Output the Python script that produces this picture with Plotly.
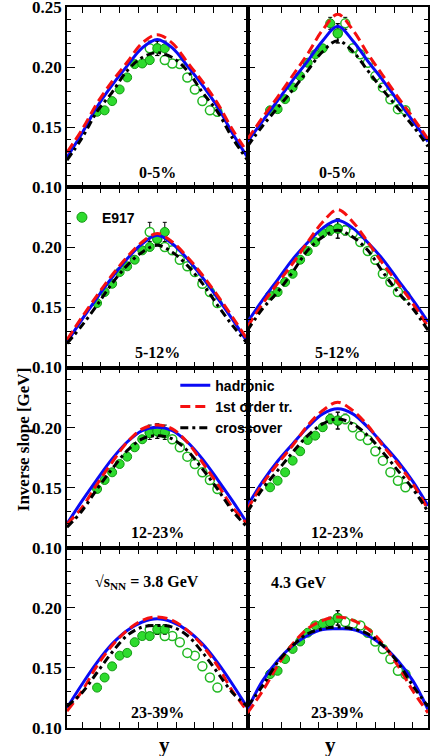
import plotly.graph_objects as go
from plotly.subplots import make_subplots

# rapidity grid for the model curves
X_CURVE = [-1.2, -1.0, -0.8, -0.6, -0.4, -0.2, 0.0, 0.2, 0.4, 0.6, 0.8, 1.0, 1.2]

# model curves, 3.8 GeV (left column)
had_38_0_5 = [0.125, 0.145, 0.167, 0.185, 0.201, 0.216, 0.223, 0.216, 0.201, 0.185, 0.167, 0.145, 0.125]
fo_38_0_5 = [0.129, 0.148, 0.170, 0.188, 0.204, 0.220, 0.227, 0.220, 0.204, 0.188, 0.170, 0.148, 0.129]
cr_38_0_5 = [0.1225, 0.141, 0.163, 0.179, 0.197, 0.208, 0.212, 0.208, 0.197, 0.179, 0.163, 0.141, 0.1225]

had_38_5_12 = [0.121, 0.140, 0.158, 0.175, 0.1905, 0.203, 0.210, 0.203, 0.1905, 0.175, 0.158, 0.140, 0.121]
fo_38_5_12 = [0.123, 0.142, 0.160, 0.177, 0.192, 0.2045, 0.2115, 0.2045, 0.192, 0.177, 0.160, 0.142, 0.123]
cr_38_5_12 = [0.120, 0.135, 0.152, 0.170, 0.185, 0.196, 0.2017, 0.196, 0.185, 0.170, 0.152, 0.135, 0.120]

had_38_12_23 = [0.120, 0.139, 0.157, 0.174, 0.188, 0.1975, 0.2003, 0.1975, 0.188, 0.174, 0.157, 0.139, 0.120]
fo_38_12_23 = [0.1197, 0.1336, 0.153, 0.1711, 0.1878, 0.1989, 0.2022, 0.1989, 0.1878, 0.1711, 0.153, 0.1336, 0.1197]
cr_38_12_23 = [0.117, 0.1308, 0.1489, 0.1656, 0.1808, 0.1906, 0.1933, 0.1906, 0.1808, 0.1656, 0.1489, 0.1308, 0.117]

had_38_23_39 = [0.1168, 0.1364, 0.1546, 0.170, 0.1812, 0.1882, 0.191, 0.1882, 0.1812, 0.170, 0.1546, 0.1364, 0.1168]
fo_38_23_39 = [0.114, 0.1308, 0.1518, 0.1686, 0.1812, 0.1896, 0.1924, 0.1896, 0.1812, 0.1686, 0.1518, 0.1308, 0.114]
cr_38_23_39 = [0.118, 0.1294, 0.1462, 0.163, 0.177, 0.184, 0.1854, 0.184, 0.177, 0.163, 0.1462, 0.1294, 0.118]

# model curves, 4.3 GeV (right column)
had_43_0_5 = [0.138, 0.155, 0.172, 0.189, 0.205, 0.222, 0.234, 0.222, 0.205, 0.189, 0.172, 0.155, 0.138]
fo_43_0_5 = [0.140, 0.158, 0.175, 0.193, 0.211, 0.231, 0.244, 0.231, 0.211, 0.193, 0.175, 0.158, 0.140]
cr_43_0_5 = [0.134, 0.151, 0.166, 0.181, 0.197, 0.213, 0.222, 0.213, 0.197, 0.181, 0.166, 0.151, 0.134]

had_43_5_12 = [0.138, 0.156, 0.173, 0.190, 0.204, 0.216, 0.2225, 0.216, 0.204, 0.190, 0.173, 0.156, 0.138]
fo_43_5_12 = [0.134, 0.153, 0.170, 0.1864, 0.2044, 0.2211, 0.2314, 0.2211, 0.2044, 0.1864, 0.170, 0.153, 0.134]
cr_43_5_12 = [0.131, 0.1489, 0.1628, 0.1794, 0.1975, 0.2086, 0.2142, 0.2086, 0.1975, 0.1794, 0.1628, 0.1489, 0.131]

had_43_12_23 = [0.135, 0.155, 0.172, 0.1864, 0.2003, 0.2114, 0.2156, 0.2114, 0.2003, 0.1864, 0.172, 0.155, 0.135]
fo_43_12_23 = [0.132, 0.153, 0.1697, 0.185, 0.2017, 0.2142, 0.2211, 0.2142, 0.2017, 0.185, 0.1697, 0.153, 0.132]
cr_43_12_23 = [0.130, 0.1489, 0.1642, 0.1794, 0.1933, 0.2031, 0.2072, 0.2031, 0.1933, 0.1794, 0.1642, 0.1489, 0.130]

had_43_23_39 = [0.1154, 0.1392, 0.156, 0.1686, 0.177, 0.182, 0.1826, 0.182, 0.177, 0.1686, 0.156, 0.1392, 0.1154]
fo_43_23_39 = [0.1126, 0.1308, 0.1518, 0.170, 0.1826, 0.1896, 0.1924, 0.1896, 0.1826, 0.170, 0.1518, 0.1308, 0.1126]
cr_43_23_39 = [0.118, 0.135, 0.1546, 0.1686, 0.1784, 0.1826, 0.184, 0.1826, 0.1784, 0.1686, 0.1546, 0.135, 0.118]

# E917 inverse slopes (measured side, filled symbols)
X_E917_38 = [-0.8, -0.7, -0.6, -0.5, -0.4, -0.3, -0.2, -0.1, 0.0, 0.1]
X_E917_43 = [-0.9, -0.8, -0.7, -0.6, -0.5, -0.4, -0.3, -0.2, -0.1, 0.0]

e917_38_0_5 = [0.1628, 0.164, 0.1717, 0.1814, 0.1914, 0.2025, 0.203, 0.2058, 0.2156, 0.2156]
err_38_0_5 = [0.002, 0.002, 0.002, 0.002, 0.002, 0.002, 0.002, 0.003, 0.006, 0.006]
e917_38_5_12 = [0.1536, 0.1628, 0.1697, 0.1794, 0.1842, 0.1897, 0.1975, 0.2003, 0.207, 0.2128]
err_38_5_12 = [0.002, 0.002, 0.002, 0.002, 0.002, 0.003, 0.002, 0.003, 0.004, 0.008]
e917_38_12_23 = [0.1489, 0.1564, 0.1628, 0.1697, 0.1758, 0.1836, 0.1903, 0.1953, 0.197, 0.1961]
err_38_12_23 = [0.002, 0.002, 0.002, 0.002, 0.002, 0.002, 0.002, 0.003, 0.006, 0.006]
e917_38_23_39 = [0.1336, 0.142, 0.1513, 0.1602, 0.1625, 0.1714, 0.1765, 0.1765, 0.182, 0.182]
err_38_23_39 = [0.002, 0.002, 0.002, 0.002, 0.002, 0.002, 0.002, 0.003, 0.004, 0.004]

e917_43_0_5 = [0.164, 0.165, 0.1733, 0.1831, 0.1925, 0.2036, 0.2106, 0.2156, 0.2364, 0.2281]
err_43_0_5 = [0.002, 0.002, 0.002, 0.002, 0.002, 0.002, 0.002, 0.003, 0.005, 0.008]
e917_43_5_12 = [0.160, 0.1628, 0.1711, 0.178, 0.1897, 0.1969, 0.2044, 0.2119, 0.2142, 0.2156]
err_43_5_12 = [0.002, 0.002, 0.002, 0.002, 0.002, 0.002, 0.002, 0.003, 0.004, 0.008]
e917_43_12_23 = [0.1503, 0.1558, 0.1628, 0.1725, 0.1803, 0.1897, 0.1933, 0.2003, 0.2072, 0.2058]
err_43_12_23 = [0.002, 0.002, 0.002, 0.002, 0.002, 0.002, 0.002, 0.003, 0.004, 0.007]
e917_43_23_39 = [0.1448, 0.1476, 0.1574, 0.1658, 0.172, 0.1793, 0.1854, 0.1868, 0.1882, 0.1916]
err_43_23_39 = [0.002, 0.002, 0.002, 0.002, 0.002, 0.002, 0.002, 0.003, 0.004, 0.006]

CENTRALITIES = ["0-5%", "5-12%", "12-23%", "23-39%"]

panels = [
    # (row, col, x data, T data, err, hadronic, 1st order, crossover)
    (1, 1, X_E917_38, e917_38_0_5, err_38_0_5, had_38_0_5, fo_38_0_5, cr_38_0_5),
    (2, 1, X_E917_38, e917_38_5_12, err_38_5_12, had_38_5_12, fo_38_5_12, cr_38_5_12),
    (3, 1, X_E917_38, e917_38_12_23, err_38_12_23, had_38_12_23, fo_38_12_23, cr_38_12_23),
    (4, 1, X_E917_38, e917_38_23_39, err_38_23_39, had_38_23_39, fo_38_23_39, cr_38_23_39),
    (1, 2, X_E917_43, e917_43_0_5, err_43_0_5, had_43_0_5, fo_43_0_5, cr_43_0_5),
    (2, 2, X_E917_43, e917_43_5_12, err_43_5_12, had_43_5_12, fo_43_5_12, cr_43_5_12),
    (3, 2, X_E917_43, e917_43_12_23, err_43_12_23, had_43_12_23, fo_43_12_23, cr_43_12_23),
    (4, 2, X_E917_43, e917_43_23_39, err_43_23_39, had_43_23_39, fo_43_23_39, cr_43_23_39),
]

GREEN = "#2EDB2E"
GREEN_EDGE = "#129A12"
SERIF = "Liberation Serif"
SANS = "Liberation Sans"

fig = make_subplots(rows=4, cols=2, horizontal_spacing=0, vertical_spacing=0)

err_style = dict(type="data", color="black", thickness=1, width=2)
curve_styles = [
    ("hadronic", dict(color="#0A0AF5", width=3)),
    ("1st order tr.", dict(color="#F51010", width=3, dash="10px,5px")),
    ("crossover", dict(color="black", width=3, dash="8px,4px,3px,4px")),
]

for row, col, xd, td, ed, had, fo, cr in panels:
    # reflected points (open symbols)
    fig.add_trace(go.Scatter(
        x=[-v for v in xd], y=td, mode="markers", showlegend=False,
        marker=dict(symbol="circle", size=9, color="white", line=dict(color="#22B822", width=1.5)),
        error_y=dict(array=ed, **err_style)), row=row, col=col)
    # measured points (filled)
    fig.add_trace(go.Scatter(
        x=xd, y=td, mode="markers", showlegend=False,
        marker=dict(symbol="circle", size=9, color=GREEN, line=dict(color=GREEN_EDGE, width=1)),
        error_y=dict(array=ed, **err_style)), row=row, col=col)
    for (name, line), vals in zip(curve_styles, [had, fo, cr]):
        fig.add_trace(go.Scatter(
            x=X_CURVE, y=vals, mode="lines", name=name, line=line,
            line_shape="spline", showlegend=(row == 1 and col == 1)),
            row=row, col=col)

# legend key for the data
fig.add_trace(go.Scatter(
    x=[None], y=[None], mode="markers", name="E917", legend="legend2",
    marker=dict(symbol="circle", size=10, color=GREEN, line=dict(color=GREEN_EDGE, width=1))),
    row=2, col=1)

fig.update_xaxes(
    range=[-1.2, 1.2], tickmode="linear", tick0=0, dtick=0.25,
    ticks="inside", ticklen=6, tickwidth=1, tickcolor="black",
    showticklabels=False, showgrid=False, zeroline=False, automargin=False,
    showline=True, linecolor="black", linewidth=1.5, mirror="ticks")

fig.update_yaxes(
    range=[0.10, 0.25], tickmode="array", tickvals=[0.10, 0.15, 0.20, 0.25],
    ticks="inside", ticklen=8, tickwidth=1, tickcolor="black",
    minor=dict(ticks="inside", tickmode="linear", tick0=0.10, dtick=0.01,
               ticklen=4, tickcolor="black", showgrid=False),
    showgrid=False, zeroline=False, showline=True, linecolor="black", automargin=False,
    linewidth=1.5, mirror="ticks", ticklabeloverflow="allow",
    tickfont=dict(family=SERIF, size=17, color="black", weight="bold"))

for r in range(1, 5):
    labels = ["0.10", "0.15", "0.20", "0.25" if r == 1 else " "]
    fig.update_yaxes(ticktext=labels, showticklabels=True, row=r, col=1)
    fig.update_yaxes(showticklabels=False, row=r, col=2)

# centrality labels
for r, cent in enumerate(CENTRALITIES, start=1):
    for c in (1, 2):
        idx = (r - 1) * 2 + c
        sfx = "" if idx == 1 else str(idx)
        fig.add_annotation(
            x=0, y=0.1125, xref="x" + sfx, yref="y" + sfx, text=cent,
            showarrow=False, font=dict(family=SERIF, size=16, color="black", weight="bold"))

fig.add_annotation(
    x=-0.86, y=0.2208, xref="x7", yref="y7", xanchor="left",
    text="\u221As<sub>NN</sub> = 3.8 GeV", showarrow=False,
    font=dict(family=SERIF, size=16, color="black", weight="bold"))
fig.add_annotation(
    x=-0.92, y=0.2208, xref="x8", yref="y8", xanchor="left",
    text="4.3 GeV", showarrow=False,
    font=dict(family=SERIF, size=16, color="black", weight="bold"))

# axis titles
for xp in (0.25, 0.75):
    fig.add_annotation(
        x=xp, y=-0.024, xref="paper", yref="paper", text="y", showarrow=False,
        yanchor="middle", font=dict(family=SERIF, size=21, color="black", weight="bold"))
fig.add_annotation(
    x=-0.152, y=0.40, xref="paper", yref="paper", text="Inverse slope [GeV]",
    textangle=-90, showarrow=False,
    font=dict(family=SERIF, size=17, color="black", weight="bold"))

fig.update_layout(
    width=431, height=756,
    margin=dict(l=67, r=3, t=7, b=28, autoexpand=False),
    plot_bgcolor="white", paper_bgcolor="white",
    legend=dict(x=0.30, y=0.497, xanchor="left", yanchor="top",
                bgcolor="rgba(0,0,0,0)", tracegroupgap=0, itemwidth=30,
                font=dict(family=SANS, size=14, color="black", weight="bold")),
    legend2=dict(x=-0.014, y=0.73, xanchor="left", yanchor="top",
                 bgcolor="rgba(0,0,0,0)", itemwidth=30,
                 font=dict(family=SANS, size=14, color="black", weight="bold")),
)

# page body margin would shift the 431x756 figure inside the window
fig.write_html("out.html", config={"displayModeBar": False},
               post_script="document.body.style.margin='0';document.body.style.overflow='hidden';")
